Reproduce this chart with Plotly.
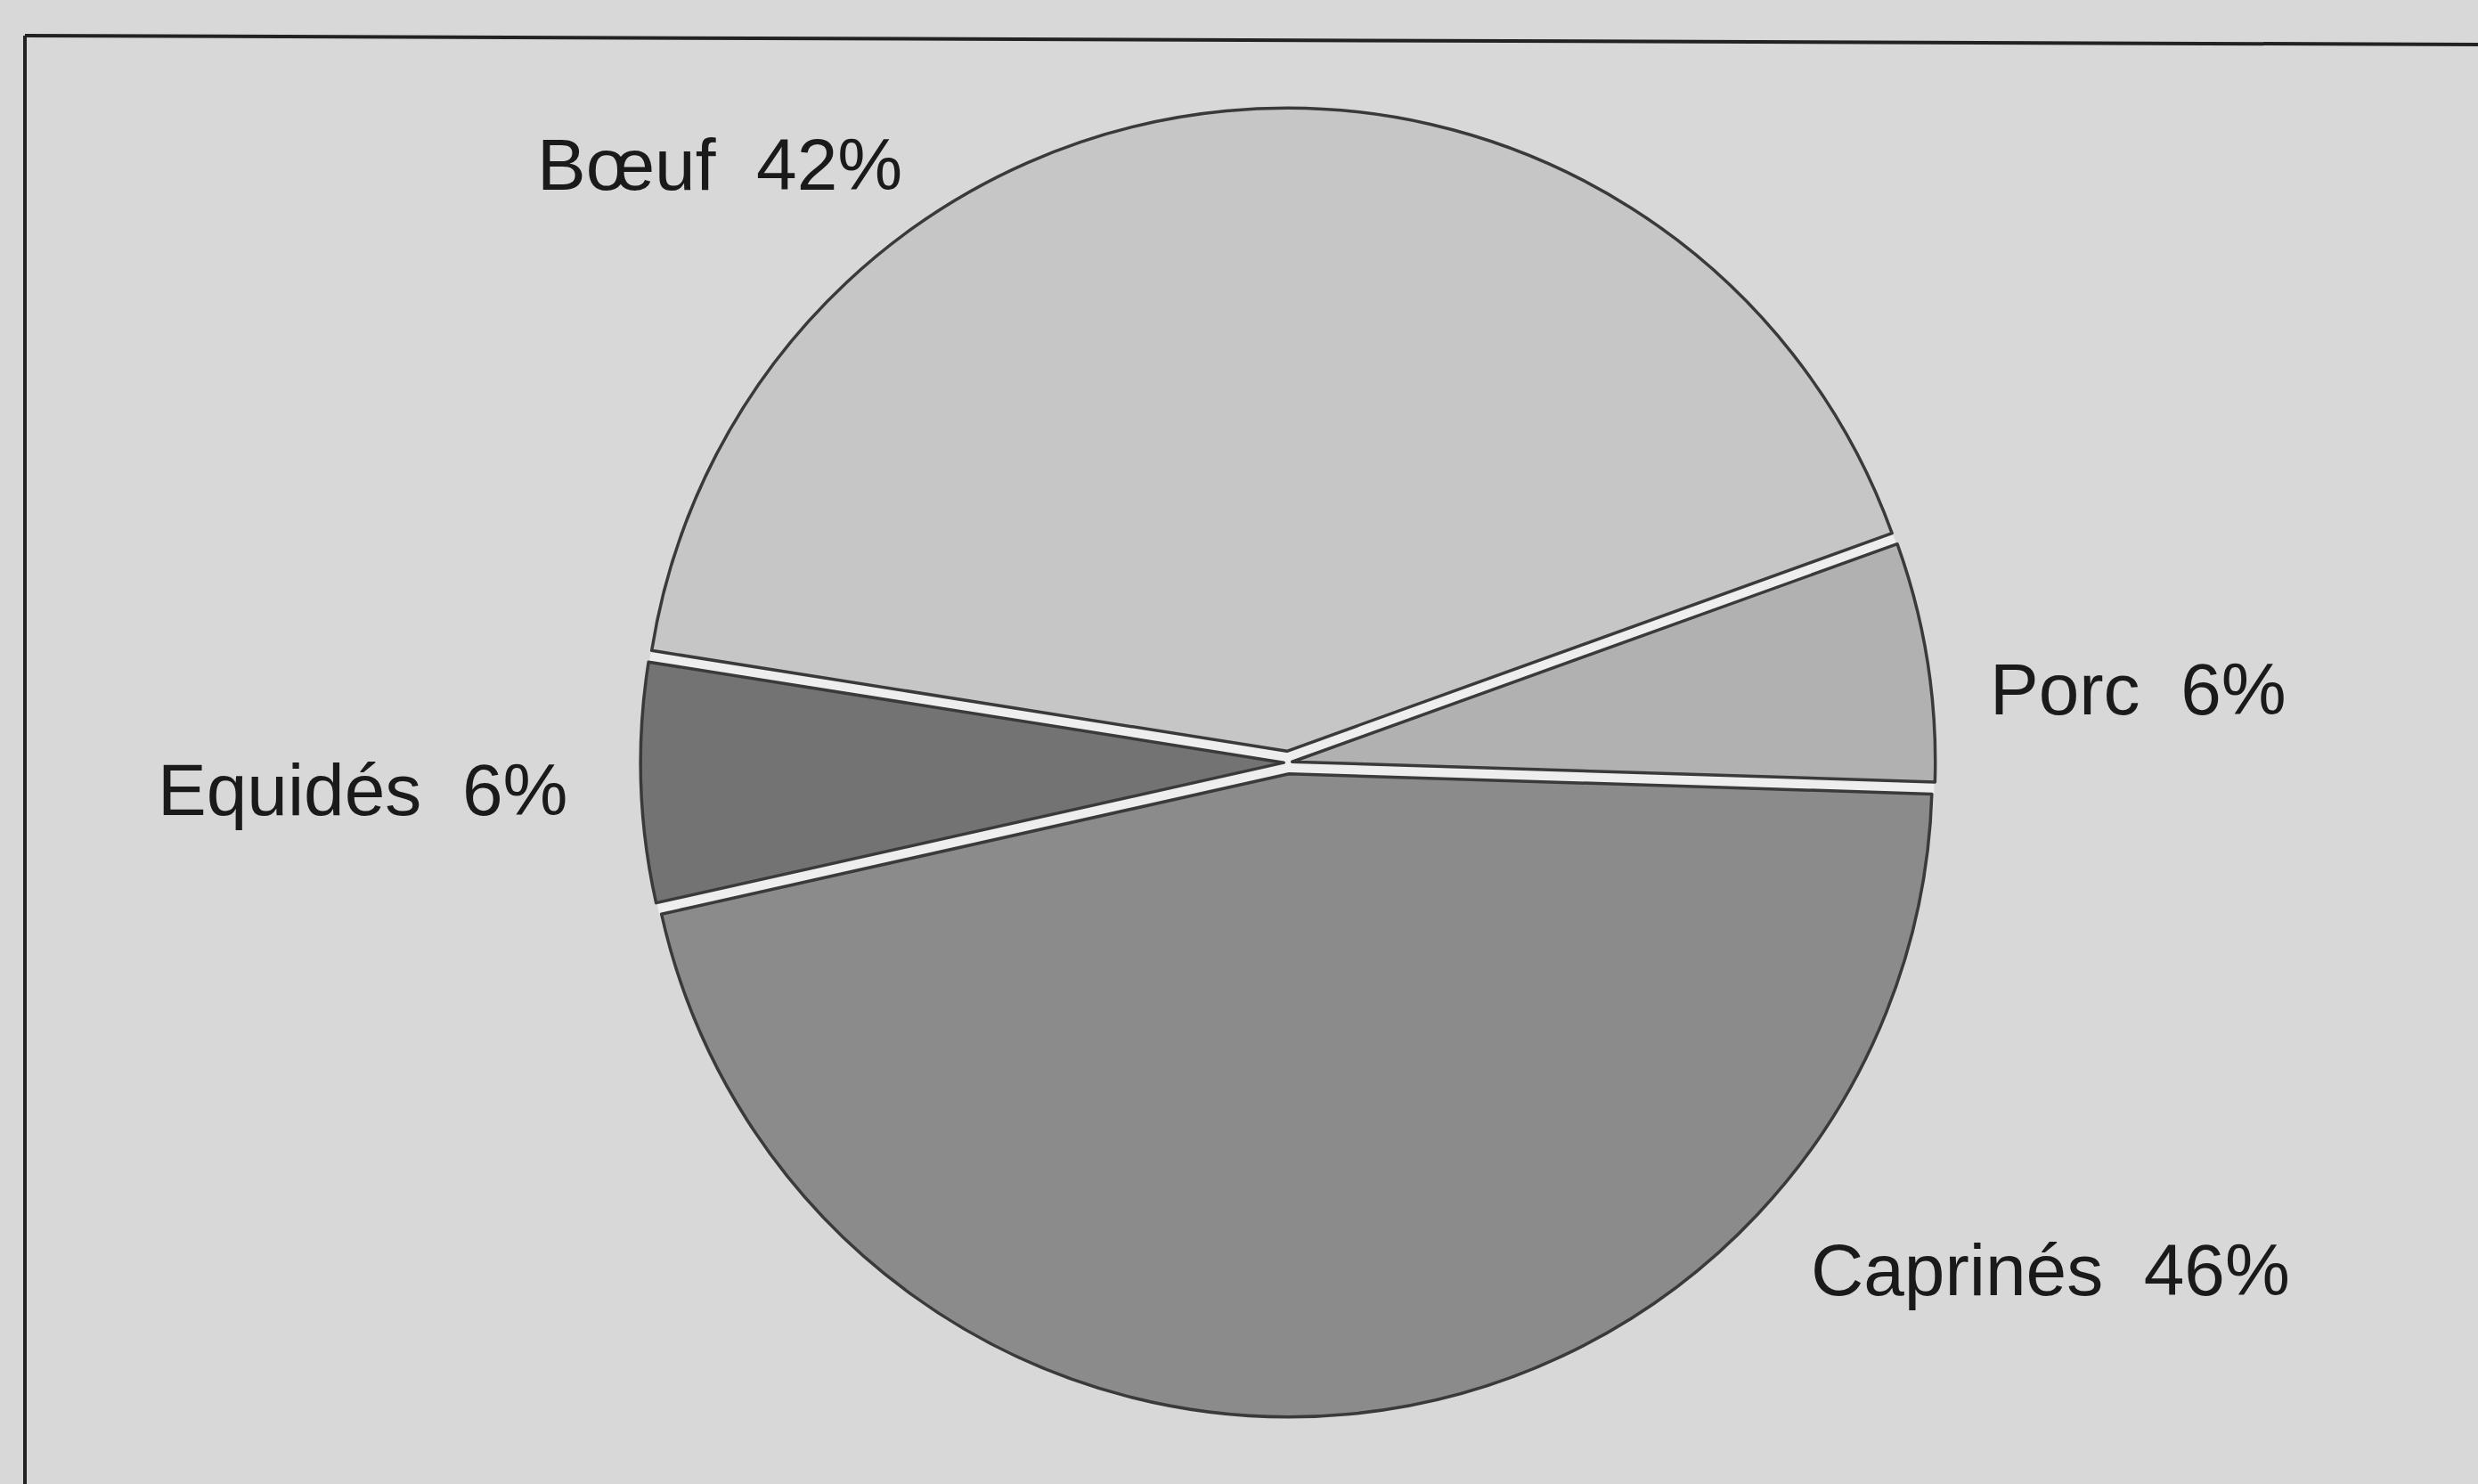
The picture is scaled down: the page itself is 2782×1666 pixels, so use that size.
import plotly.graph_objects as go

# Répartition des restes par espèce (%)
especes = ["Bœuf", "Porc", "Caprinés", "Equidés"]
parts = [42, 6, 46, 6]
teintes = ["#c6c6c6", "#b1b1b1", "#8b8b8b", "#737373"]
# sectors pulled slightly off the centre, the two large ones further
decalage = [0.0177, 0.0066, 0.0177, 0.0066]

W, H = 2782, 1666
fond = "#d8d8d8"

# pie placement (pixels)
cx, cy, r = 1446, 856, 722
demi = r * (1 + max(decalage))
dom_x = [(cx - demi) / W, (cx + demi) / W]
dom_y = [(H - cy - demi) / H, (H - cy + demi) / H]

fig = go.Figure()
fig.add_trace(go.Pie(
    labels=especes, values=parts, sort=False, direction="clockwise",
    rotation=-81, textinfo="none", hoverinfo="skip", showlegend=False,
    pull=decalage,
    marker=dict(colors=teintes, line=dict(color="#3a3a3a", width=3.5)),
    domain=dict(x=dom_x, y=dom_y),
))

# pale disc behind the pie, visible through the gaps between sectors
rd = r + 4
fig.add_shape(type="circle", xref="paper", yref="paper", layer="below",
              x0=(cx - rd) / W, x1=(cx + rd) / W,
              y0=(H - cy - rd) / H, y1=(H - cy + rd) / H,
              fillcolor="#eeeeee", line=dict(width=0))

# label positions (pixels) and anchors
pos = {
    "Bœuf": (1015, 185, "right"),
    "Porc": (2232, 773, "left"),
    "Caprinés": (2031, 1425, "left"),
    "Equidés": (639, 887, "right"),
}
for nom, val in zip(especes, parts):
    px, py, ancre = pos[nom]
    fig.add_annotation(
        x=px / W, y=1 - py / H, xref="paper", yref="paper",
        text=f"{nom}\u00a0 {val}%", showarrow=False,
        xanchor=ancre, yanchor="middle",
        font=dict(family="Liberation Sans, Arial, sans-serif", size=82, color="#1a1a1a"),
    )

# frame: left and top rules
fig.add_shape(type="line", xref="paper", yref="paper",
              x0=28 / W, y0=1 - 40 / H, x1=1.0, y1=1 - 50 / H,
              line=dict(color="#222222", width=4))
fig.add_shape(type="line", xref="paper", yref="paper",
              x0=28 / W, y0=1 - 40 / H, x1=28 / W, y1=0,
              line=dict(color="#222222", width=4))

fig.update_layout(
    width=W, height=H, margin=dict(l=0, r=0, t=0, b=0),
    paper_bgcolor=fond, plot_bgcolor=fond,
)

fig.write_html("out.html")
